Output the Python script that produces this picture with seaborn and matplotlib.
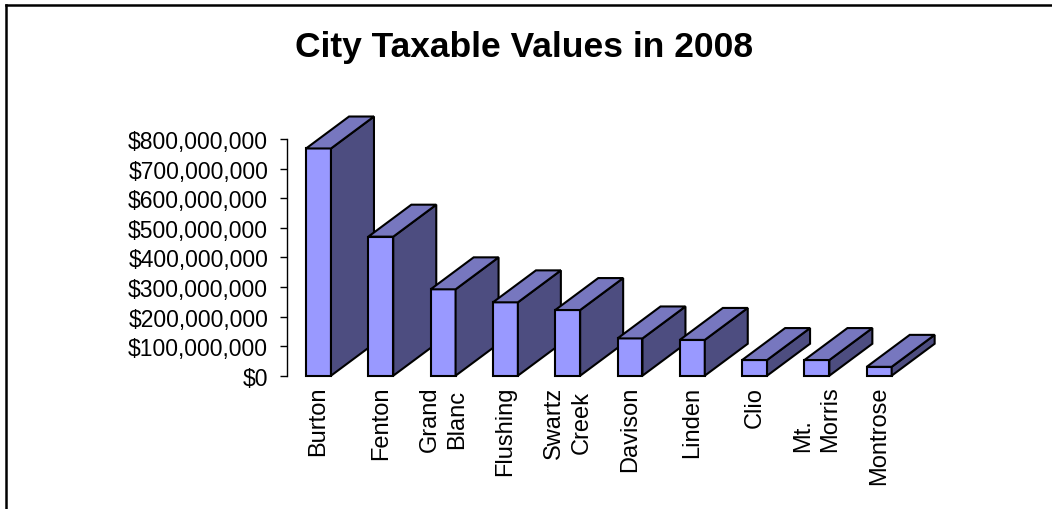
import matplotlib
matplotlib.use("Agg")
import matplotlib.pyplot as plt
import seaborn as sns
import pandas as pd
from matplotlib.patches import Polygon
from matplotlib.lines import Line2D
from matplotlib.ticker import FuncFormatter

# ---- data ----
cities = ["Burton", "Fenton", "Grand Blanc", "Flushing", "Swartz Creek",
          "Davison", "Linden", "Clio", "Mt. Morris", "Montrose"]
values = [768e6, 470e6, 292e6, 248e6, 222e6, 126e6, 121e6, 53e6, 53e6, 30e6]
tick_labels = ["Burton", "Fenton", "Grand\nBlanc", "Flushing", "Swartz\nCreek",
               "Davison", "Linden", "Clio", "Mt.\nMorris", "Montrose"]
y_ticks = [0, 100e6, 200e6, 300e6, 400e6, 500e6, 600e6, 700e6, 800e6]
title = "City Taxable Values in 2008"

# ---- style ----
FRONT = "#9999FF"
SIDE = "#4D4D80"
TOP = "#7777BF"
DX = 0.69      # depth offset in category units
DY = 108e6     # depth offset in value units
EDGE_LW = 1.5

sns.set_style("white")
plt.rcParams['font.family'] = ['Liberation Sans', 'DejaVu Sans']

W, H = 1052, 510
fig = plt.figure(figsize=(W / 100, H / 100), dpi=100)
fig.patch.set_facecolor("white")
ax = fig.add_axes([287 / W, 133.3 / H, 654.5 / W, 236.7 / H])

df = pd.DataFrame({"city": cities, "value": values})
sns.barplot(data=df, x="city", y="value", width=0.4, color=FRONT, saturation=1,
            edgecolor="black", linewidth=EDGE_LW, ax=ax)

for i, patch in enumerate(list(ax.patches)):
    x0 = patch.get_x()
    w = patch.get_width()
    h = patch.get_height()
    z = 10 + i
    patch.set_zorder(z)
    patch.set_clip_on(False)
    patch.set_joinstyle("miter")
    side = Polygon([(x0 + w, 0), (x0 + w + DX, DY), (x0 + w + DX, h + DY), (x0 + w, h)],
                   closed=True, facecolor=SIDE, edgecolor="black", linewidth=EDGE_LW,
                   zorder=z, clip_on=False, joinstyle="miter")
    top = Polygon([(x0, h), (x0 + DX, h + DY), (x0 + w + DX, h + DY), (x0 + w, h)],
                  closed=True, facecolor=TOP, edgecolor="black", linewidth=EDGE_LW,
                  zorder=z, clip_on=False, joinstyle="miter")
    ax.add_patch(side)
    ax.add_patch(top)

ax.set_xlim(-0.506, 10.0)
ax.set_ylim(0, 800e6)
ax.set_yticks(y_ticks)
ax.yaxis.set_major_formatter(FuncFormatter(lambda v, p: f"${v:,.0f}"))
ax.set_xticks(range(len(cities)))
ax.set_xticklabels(tick_labels, rotation=90, ha="center", va="top",
                   multialignment="center", linespacing=1.32)
for lab in ax.get_xticklabels():
    if lab.get_text().startswith("Mt."):
        lab.set_multialignment("left")
ax.set_xlabel("")
ax.set_ylabel("")

for s in ["top", "right", "bottom"]:
    ax.spines[s].set_visible(False)
ax.spines["left"].set_color("black")
ax.spines["left"].set_linewidth(1.0)
ax.tick_params(axis="y", direction="out", length=5, width=1.0, pad=8.6,
               labelsize=16.5, left=True, colors="black")
ax.tick_params(axis="x", length=0, pad=7.2, labelsize=17, colors="black")
ax.grid(False)

fig.text(524 / W, 1 - 57.3 / H, title, ha="center", va="baseline",
         fontsize=25.5, fontweight="bold", color="black")

# chart-area border: only the top and left edges fall inside the image
bx, by = 5.5 / W, 1 - 6.3 / H
fig.add_artist(Line2D([bx, 1.0], [by, by], transform=fig.transFigure,
                      color="black", linewidth=1.8, solid_capstyle="projecting"))
fig.add_artist(Line2D([bx, bx], [0.0, by], transform=fig.transFigure,
                      color="black", linewidth=1.8, solid_capstyle="projecting"))

fig.savefig("out.png", dpi=100)
